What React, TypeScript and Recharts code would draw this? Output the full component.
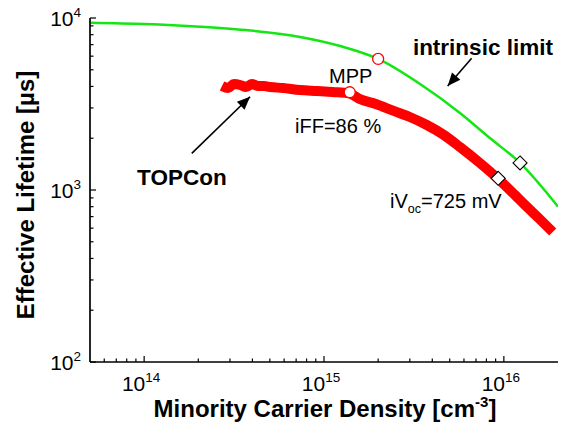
import React from 'react';
import { ComposedChart, XAxis, YAxis, Line, Scatter } from 'recharts';

// ---- data ----
const intrinsicDensity = [5e13, 1e14, 2.05e14, 3.88e14, 7.36e14, 1.23e15, 2.0e15, 3.42e15, 5.7e15, 8.36e15, 1.23e16, 2e16];
const intrinsicLifetime = [9390, 9230, 8900, 8460, 7760, 6870, 5780, 4130, 2805, 2005, 1436, 800];

const topconDensity = [2.71e14, 2.93e14, 3.16e14, 3.42e14, 3.69e14, 3.98e14, 4.3e14, 4.64e14, 5.01e14, 5.92e14, 7.36e14, 9.14e14, 1.12e15, 1.39e15, 1.58e15, 1.94e15, 2.42e15, 3.0e15, 3.73e15, 4.64e15, 5.7e15, 7.36e15, 9.26e15, 1.11e16, 1.34e16, 1.58e16, 1.87e16];
const topconLifetime = [4025, 3918, 4130, 4079, 3971, 4130, 4025, 4025, 3971, 3918, 3812, 3763, 3714, 3640, 3381, 3163, 2891, 2657, 2387, 2088, 1778, 1436, 1166, 973, 800, 678, 570];

const mppDensity = [1.39e15, 2.0e15];
const mppLifetime = [3700, 5780];
const vocDensity = [9.3e15, 1.23e16];
const vocLifetime = [1170, 1436];

const xTickValues = [6e13, 7e13, 8e13, 9e13, 1e14, 2e14, 3e14, 4e14, 5e14, 6e14, 7e14, 8e14, 9e14, 1e15, 2e15, 3e15, 4e15, 5e15, 6e15, 7e15, 8e15, 9e15, 1e16];
const yTickValues = [100, 200, 300, 400, 500, 600, 700, 800, 900, 1000, 2000, 3000, 4000, 5000, 6000, 7000, 8000, 9000, 10000];

const xTitle = 'Minority Carrier Density [cm';
const xTitleSup = '-3';
const yTitle = 'Effective Lifetime [µs]';

// annotation texts placed in data coordinates
const labelTexts = ['intrinsic limit', 'MPP', 'iFF=86 %', 'TOPCon', 'iVoc'];
const labelDensity = [3.12e15, 1.066e15, 6.9e14, 9.14e13, 2.33e15];
const labelLifetime = [6095, 4190, 2143, 1069, 785];

const arrowIntrinsicDensity = [6.62e15, 4.87e15];
const arrowIntrinsicLifetime = [5837, 4025];
const arrowTopconDensity = [1.84e14, 3.88e14];
const arrowTopconLifetime = [1634, 3485];

// ---- tables ----
const zip = (xs: number[], ys: number[]) => xs.map((n, i) => ({ n, tau: ys[i] }));
const intrinsicData = zip(intrinsicDensity, intrinsicLifetime);
const topconData = zip(topconDensity, topconLifetime);
const mppTopcon = [{ n: mppDensity[0], tau: mppLifetime[0] }];
const mppIntrinsic = [{ n: mppDensity[1], tau: mppLifetime[1] }];
const vocData = zip(vocDensity, vocLifetime);
const labelData = labelDensity.map((n, i) => ({ n, tau: labelLifetime[i], text: labelTexts[i] }));
const arrowIntrinsic = zip(arrowIntrinsicDensity, arrowIntrinsicLifetime);
const arrowTopcon = zip(arrowTopconDensity, arrowTopconLifetime);

const FONT = 'Liberation Sans, Arial, Helvetica, sans-serif';
const GREEN = '#14e614';
const RED = '#ff0000';

const isMajor = (v: number) => Math.abs(Math.log10(v) - Math.round(Math.log10(v))) < 1e-6;
const expOf = (v: number) => Math.round(Math.log10(v));

const XBottomTick = (props: any) => {
  const { x, y, payload } = props;
  const v = payload.value;
  const major = isMajor(v);
  return (
    <g>
      <line x1={x} x2={x} y1={y} y2={y - (major ? 6 : 3.5)} stroke="#000" strokeWidth={1.2} />
      {major && (
        <text x={x - 3} y={y + 29} textAnchor="middle" fontSize={21} fontFamily={FONT} fill="#000">
          10<tspan dy={-9} fontSize={13.5}>{expOf(v)}</tspan>
        </text>
      )}
    </g>
  );
};

const XTopTick = (props: any) => {
  const { x, y, payload } = props;
  const major = isMajor(payload.value);
  return <line x1={x} x2={x} y1={y} y2={y + (major ? 6 : 3.5)} stroke="#000" strokeWidth={1.2} />;
};

const YLeftTick = (props: any) => {
  const { x, y, payload } = props;
  const v = payload.value;
  const major = isMajor(v);
  return (
    <g>
      <line x1={x} x2={x + (major ? 6 : 3.5)} y1={y} y2={y} stroke="#000" strokeWidth={1.2} />
      {major && (
        <text x={x - 9} y={y + 8} textAnchor="end" fontSize={21} fontFamily={FONT} fill="#000">
          10<tspan dy={-9} fontSize={13.5}>{expOf(v)}</tspan>
        </text>
      )}
    </g>
  );
};

const YRightTick = (props: any) => {
  const { x, y, payload } = props;
  const major = isMajor(payload.value);
  return <line x1={x} x2={x - (major ? 6 : 3.5)} y1={y} y2={y} stroke="#000" strokeWidth={1.2} />;
};

const CircleShape = (props: any) => (
  <circle cx={props.cx} cy={props.cy} r={5.5} fill="#fff" stroke={RED} strokeWidth={1.3} />
);

const DiamondShape = (props: any) => {
  const { cx, cy } = props;
  const d = 7;
  return (
    <polygon
      points={`${cx},${cy - d} ${cx + d},${cy} ${cx},${cy + d} ${cx - d},${cy}`}
      fill="#fff"
      stroke="#000"
      strokeWidth={1.1}
    />
  );
};

const LabelShape = (props: any) => {
  const { cx, cy, payload } = props;
  const t = payload.text;
  if (t === 'intrinsic limit' || t === 'TOPCon') {
    return (
      <text x={cx} y={cy} fontSize={22.5} fontWeight="bold" fontFamily={FONT} fill="#000">
        {t}
      </text>
    );
  }
  if (t === 'iVoc') {
    return (
      <text x={cx} y={cy} fontSize={20} fontFamily={FONT} fill="#000">
        iV<tspan dy={5} fontSize={12.5}>oc</tspan>
        <tspan dy={-5} fontSize={20}>=725 mV</tspan>
      </text>
    );
  }
  return (
    <text x={cx} y={cy} fontSize={20} fontFamily={FONT} fill="#000">
      {t}
    </text>
  );
};

const ArrowHead = (props: any) => {
  const { cx, cy, index, points } = props;
  if (!points || index !== points.length - 1) return <g key={`ah-${index}`} />;
  const p0 = points[index - 1];
  const ang = Math.atan2(cy - p0.y, cx - p0.x);
  const L = 13;
  const W = 5.5;
  const bx = cx - L * Math.cos(ang);
  const by = cy - L * Math.sin(ang);
  const px = -Math.sin(ang) * W;
  const py = Math.cos(ang) * W;
  return (
    <polygon
      key={`ah-${index}`}
      points={`${cx},${cy} ${bx + px},${by + py} ${bx - px},${by - py}`}
      fill="#000"
      stroke="none"
    />
  );
};

export default function App() {
  return (
    <div style={{ position: 'absolute', left: 0, top: 0, width: 568, height: 436, background: '#fff' }}>
      <ComposedChart width={568} height={436} margin={{ top: 18, right: 10, bottom: 0, left: 0 }}>
        <XAxis
          xAxisId="bottom"
          dataKey="n"
          type="number"
          scale="log"
          domain={[5e13, 2e16]}
          allowDataOverflow
          ticks={xTickValues}
          interval={0}
          height={74}
          tickSize={0}
          tickMargin={0}
          tickLine={false}
          tick={<XBottomTick />}
          axisLine={{ stroke: '#000', strokeWidth: 1.7 }}
        />
        <XAxis
          xAxisId="top"
          orientation="top"
          dataKey="n"
          type="number"
          scale="log"
          domain={[5e13, 2e16]}
          allowDataOverflow
          ticks={xTickValues}
          interval={0}
          height={0}
          tickSize={0}
          tickMargin={0}
          tickLine={false}
          tick={<XTopTick />}
          axisLine={{ stroke: '#000', strokeWidth: 1.7 }}
        />
        <YAxis
          yAxisId="left"
          dataKey="tau"
          type="number"
          scale="log"
          domain={[100, 10000]}
          allowDataOverflow
          ticks={yTickValues}
          interval={0}
          width={90}
          tickSize={0}
          tickMargin={0}
          tickLine={false}
          tick={<YLeftTick />}
          axisLine={{ stroke: '#000', strokeWidth: 1.7 }}
        />
        <YAxis
          yAxisId="right"
          orientation="right"
          dataKey="tau"
          type="number"
          scale="log"
          domain={[100, 10000]}
          allowDataOverflow
          ticks={yTickValues}
          interval={0}
          width={0}
          tickSize={0}
          tickMargin={0}
          tickLine={false}
          tick={<YRightTick />}
          axisLine={{ stroke: '#000', strokeWidth: 1.7 }}
        />
        <Line
          xAxisId="bottom"
          yAxisId="left"
          data={intrinsicData}
          dataKey="tau"
          type="monotone"
          stroke={GREEN}
          strokeWidth={2.5}
          dot={false}
          activeDot={false}
          isAnimationActive={false}
        />
        <Line
          xAxisId="bottom"
          yAxisId="left"
          data={topconData}
          dataKey="tau"
          type="monotone"
          stroke={RED}
          strokeWidth={10}
          dot={false}
          activeDot={false}
          isAnimationActive={false}
        />
        <Line
          xAxisId="bottom"
          yAxisId="left"
          data={arrowIntrinsic}
          dataKey="tau"
          type="linear"
          stroke="#000"
          strokeWidth={1.6}
          dot={<ArrowHead />}
          activeDot={false}
          isAnimationActive={false}
        />
        <Line
          xAxisId="bottom"
          yAxisId="left"
          data={arrowTopcon}
          dataKey="tau"
          type="linear"
          stroke="#000"
          strokeWidth={1.6}
          dot={<ArrowHead />}
          activeDot={false}
          isAnimationActive={false}
        />
        <Scatter xAxisId="bottom" yAxisId="left" data={mppTopcon} dataKey="tau" shape={<CircleShape />} isAnimationActive={false} />
        <Scatter xAxisId="bottom" yAxisId="left" data={mppIntrinsic} dataKey="tau" shape={<CircleShape />} isAnimationActive={false} />
        <Scatter xAxisId="bottom" yAxisId="left" data={vocData} dataKey="tau" shape={<DiamondShape />} isAnimationActive={false} />
        <Scatter xAxisId="bottom" yAxisId="left" data={labelData} dataKey="tau" shape={<LabelShape />} isAnimationActive={false} />
      </ComposedChart>
      <svg width={568} height={436} style={{ position: 'absolute', left: 0, top: 0, pointerEvents: 'none' }}>
        <text x={325} y={417} textAnchor="middle" fontSize={24} fontWeight="bold" fontFamily={FONT} fill="#000">
          {xTitle}
          <tspan dy={-10} fontSize={15}>{xTitleSup}</tspan>
          <tspan dy={10} fontSize={24}>]</tspan>
        </text>
        <text
          x={0}
          y={0}
          transform="translate(34,195) rotate(-90)"
          textAnchor="middle"
          fontSize={24}
          fontWeight="bold"
          fontFamily={FONT}
          fill="#000"
        >
          {yTitle}
        </text>
      </svg>
    </div>
  );
}
